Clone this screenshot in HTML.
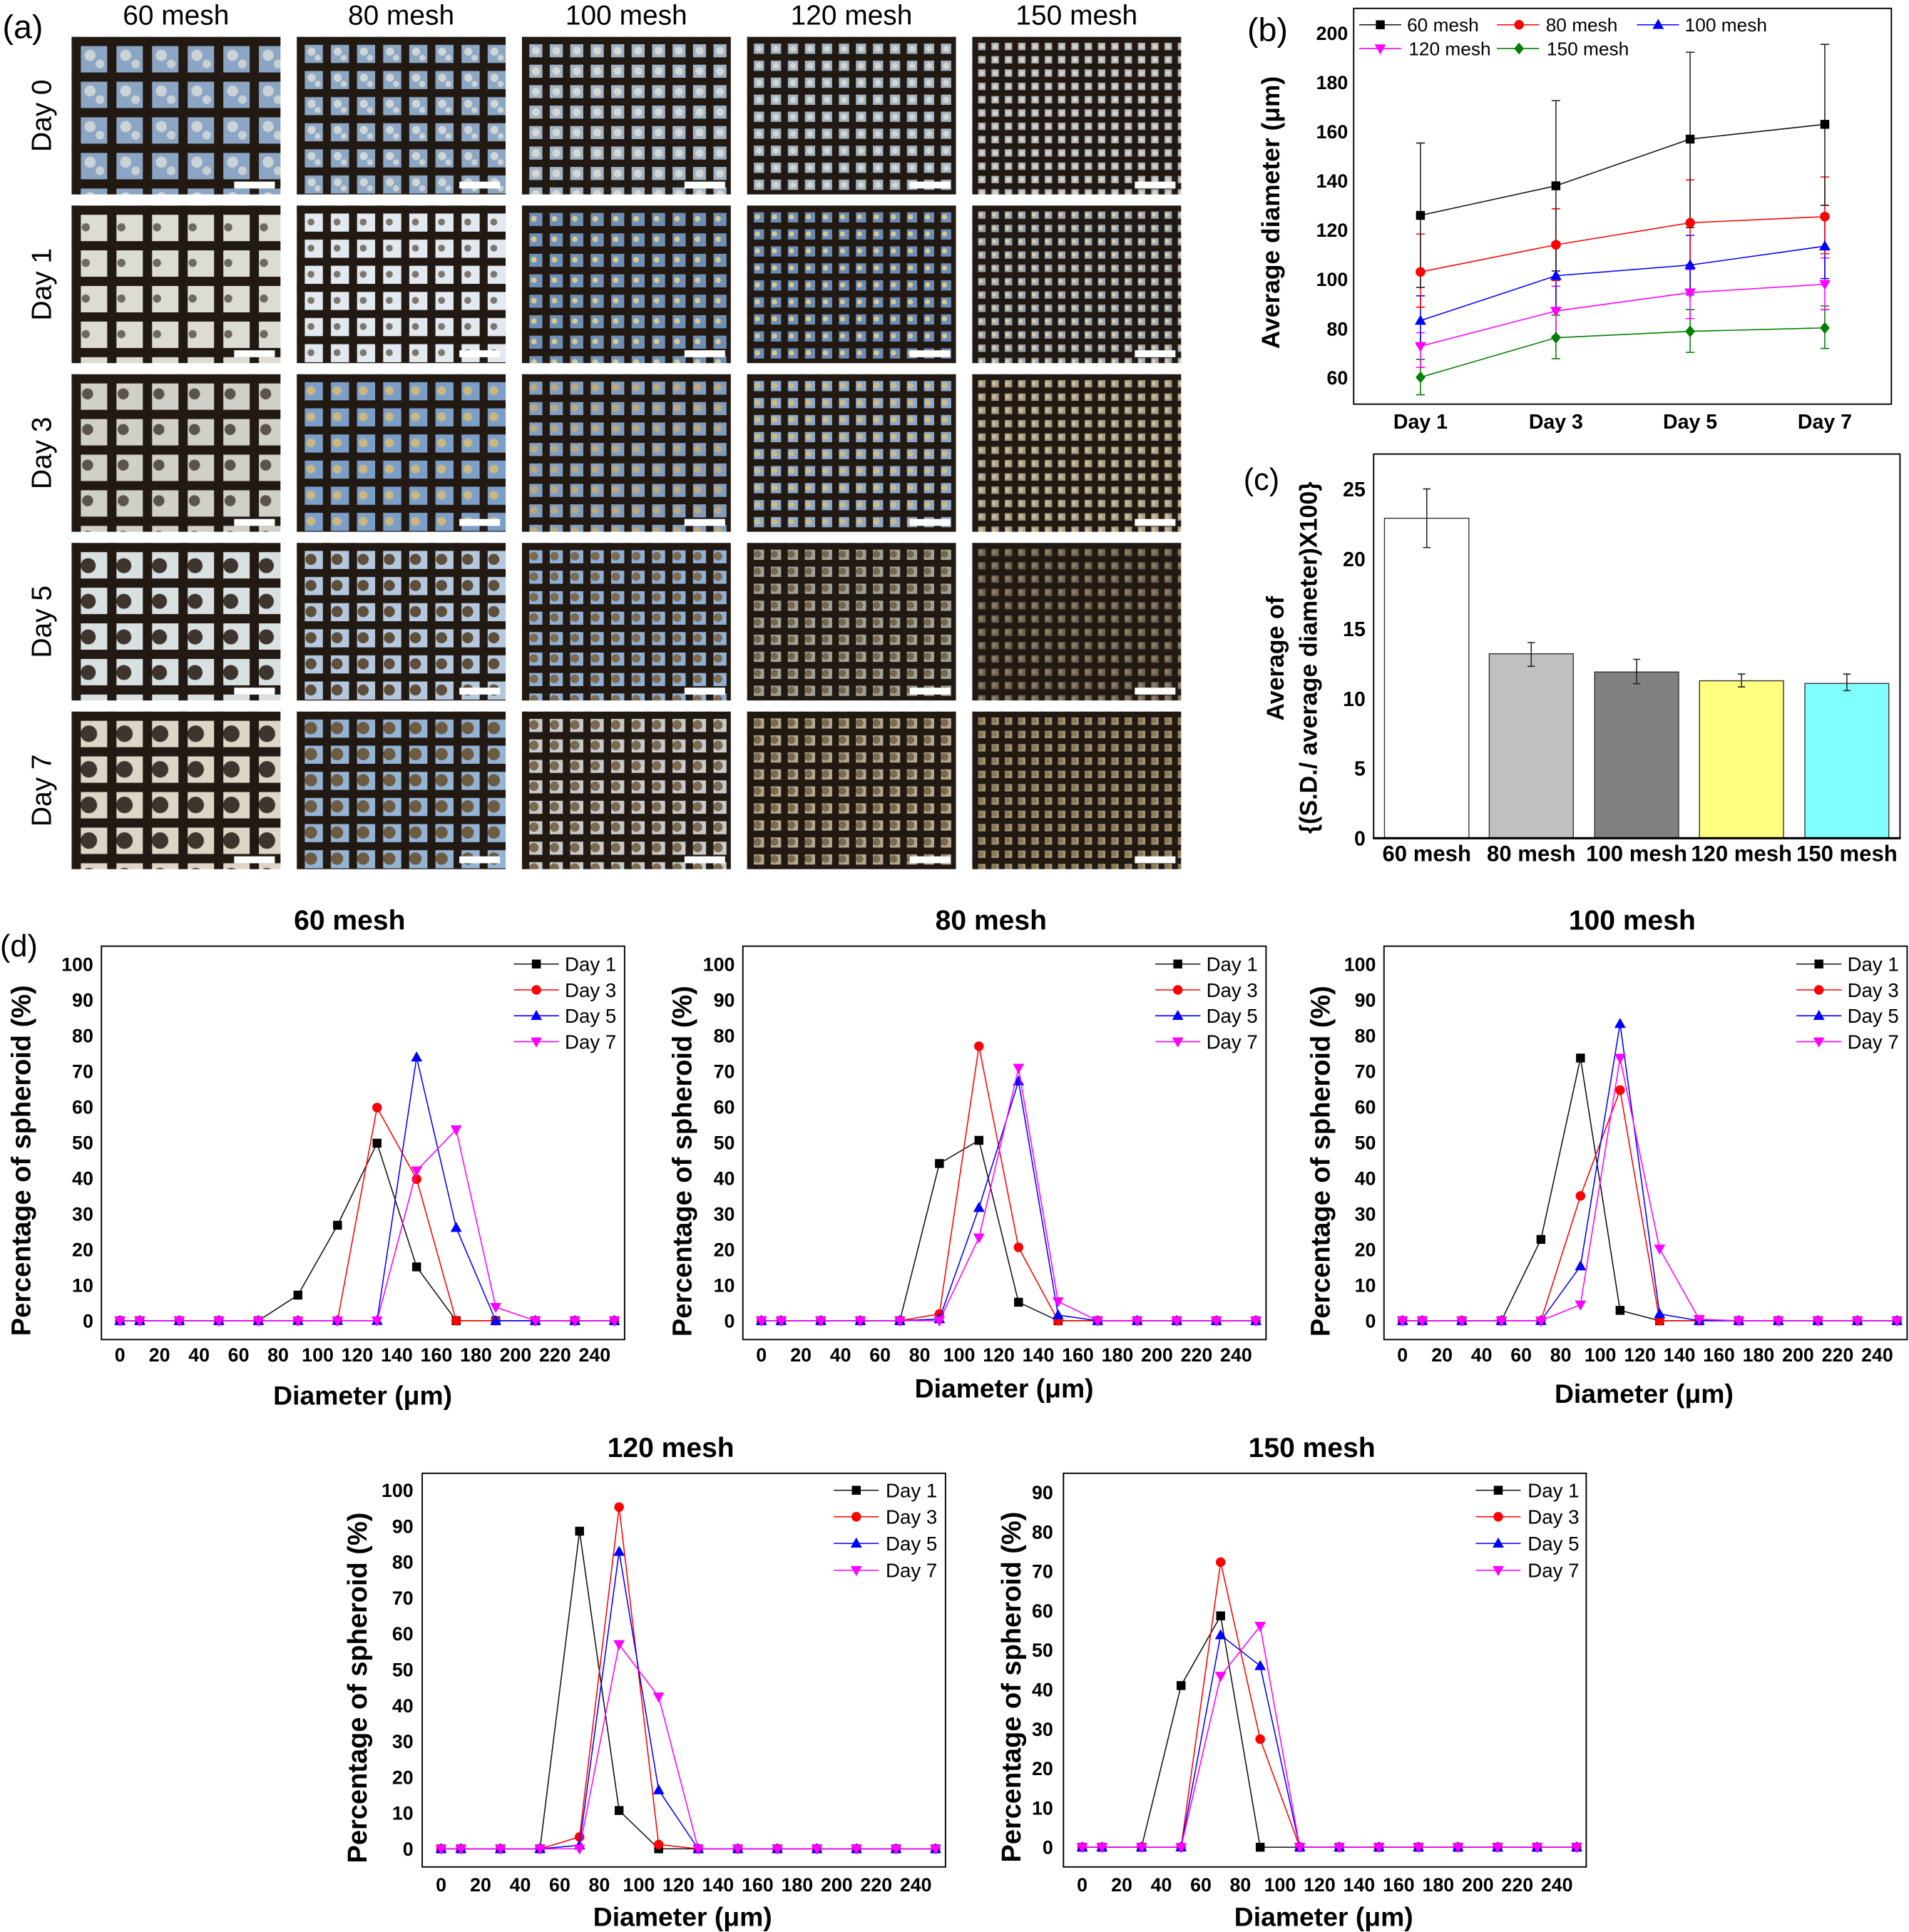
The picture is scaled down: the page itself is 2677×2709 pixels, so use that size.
<!DOCTYPE html>
<html><head><meta charset="utf-8"><style>
html,body{margin:0;padding:0;background:#fff;overflow:hidden}
svg{display:block}
text{font-family:"Liberation Sans",Arial,sans-serif;fill:#000}
.tk{font-size:15.5px;font-weight:bold}
.tkc{font-size:16.5px;font-weight:bold}
.ttl{font-size:22.6px;font-weight:bold}
.yt{font-size:22px;font-weight:bold}
.xt{font-size:21.6px;font-weight:bold}
.lg{font-size:16px}
.lgb{font-size:15.2px}
.hd{font-size:22.5px}
.pl{font-size:27px}
.s1,.s3,.s5,.s7,.s9{fill:none;stroke-width:.9}
.s1{stroke:#111;marker-start:url(#mk);marker-mid:url(#mk);marker-end:url(#mk)}
.s3{stroke:#f00;marker-start:url(#mr);marker-mid:url(#mr);marker-end:url(#mr)}
.s5{stroke:#00f;marker-start:url(#mb);marker-mid:url(#mb);marker-end:url(#mb)}
.s7{stroke:#f0f;marker-start:url(#mm);marker-mid:url(#mm);marker-end:url(#mm)}
.s9{stroke:#008000;marker-start:url(#mg);marker-mid:url(#mg);marker-end:url(#mg)}
.l1,.l3,.l5,.l7,.l9{fill:none;stroke-width:.9}
.l1{stroke:#111;marker-mid:url(#mk)}
.l3{stroke:#f00;marker-mid:url(#mr)}
.l5{stroke:#00f;marker-mid:url(#mb)}
.l7{stroke:#f0f;marker-mid:url(#mm)}
.l9{stroke:#008000;marker-mid:url(#mg)}
.box{fill:none;stroke:#000;stroke-width:1.1}
</style></head><body>
<svg xmlns="http://www.w3.org/2000/svg" width="2677" height="2709" viewBox="0 0 1549 1568" preserveAspectRatio="none">
<defs>
<marker id="mk" markerUnits="userSpaceOnUse" markerWidth="12" markerHeight="12" viewBox="-6 -6 12 12" refX="0" refY="0" overflow="visible"><rect x="-3.6" y="-3.6" width="7.2" height="7.2" fill="#000"/></marker>
<marker id="mr" markerUnits="userSpaceOnUse" markerWidth="12" markerHeight="12" viewBox="-6 -6 12 12" refX="0" refY="0" overflow="visible"><circle r="3.9" fill="#f00"/></marker>
<marker id="mb" markerUnits="userSpaceOnUse" markerWidth="12" markerHeight="12" viewBox="-6 -6 12 12" refX="0" refY="0" overflow="visible"><polygon points="0,-4.8 4.6,3.4 -4.6,3.4" fill="#00f"/></marker>
<marker id="mm" markerUnits="userSpaceOnUse" markerWidth="12" markerHeight="12" viewBox="-6 -6 12 12" refX="0" refY="0" overflow="visible"><polygon points="0,4.8 4.6,-3.4 -4.6,-3.4" fill="#f0f"/></marker>
<marker id="mg" markerUnits="userSpaceOnUse" markerWidth="12" markerHeight="12" viewBox="-6 -6 12 12" refX="0" refY="0" overflow="visible"><polygon points="0,-4.8 4,0 0,4.8 -4,0" fill="#008000"/></marker>

<pattern id="p00" patternUnits="userSpaceOnUse" x="58.1" y="29.9" width="28.9" height="28.9"><rect width="28.9" height="28.9" fill="#8ba6c4"/><circle cx="15" cy="15" r="4.5" fill="#ccd3d6"/><circle cx="23" cy="22" r="3.5" fill="#c8d0d4"/><rect width="28.9" height="7.5" fill="#221912"/><rect width="7.5" height="28.9" fill="#221912"/></pattern>
<pattern id="p01" patternUnits="userSpaceOnUse" x="240.8" y="29.9" width="21.2" height="21.2"><rect width="21.2" height="21.2" fill="#8ca7c3"/><circle cx="12" cy="12" r="3.3" fill="#d0d5d6"/><circle cx="17" cy="17" r="2.5" fill="#ccd2d4"/><rect width="21.2" height="6.5" fill="#221912"/><rect width="6.5" height="21.2" fill="#221912"/></pattern>
<pattern id="p02" patternUnits="userSpaceOnUse" x="423.5" y="29.9" width="16.6" height="16.6"><rect width="16.6" height="16.6" fill="#a0b4c6"/><circle cx="11.3" cy="11.3" r="3.2" fill="#d4d7d4"/><rect width="16.6" height="6" fill="#221912"/><rect width="6" height="16.6" fill="#221912"/></pattern>
<pattern id="p03" patternUnits="userSpaceOnUse" x="606.2" y="29.9" width="13.8" height="13.8"><rect width="13.8" height="13.8" fill="#a2b4c4"/><circle cx="9.65" cy="9.65" r="2.5" fill="#d4d6d0"/><rect width="13.8" height="5.5" fill="#221912"/><rect width="5.5" height="13.8" fill="#221912"/></pattern>
<pattern id="p04" patternUnits="userSpaceOnUse" x="788.9" y="29.9" width="10.8" height="10.8"><rect width="10.8" height="10.8" fill="#acb2b8"/><circle cx="7.8" cy="7.8" r="1.9" fill="#d4d4c8"/><rect width="10.8" height="4.8" fill="#221912"/><rect width="4.8" height="10.8" fill="#221912"/></pattern>

<pattern id="p10" patternUnits="userSpaceOnUse" x="58.1" y="166.8" width="28.9" height="28.9"><rect width="28.9" height="28.9" fill="#dcdcd2"/><circle cx="11.5" cy="17.68" r="3.3" fill="#6e6a62"/><rect width="28.9" height="7.5" fill="#221912"/><rect width="7.5" height="28.9" fill="#221912"/></pattern>
<pattern id="p11" patternUnits="userSpaceOnUse" x="240.8" y="166.8" width="21.2" height="21.2"><rect width="21.2" height="21.2" fill="#e2e9f1"/><circle cx="11.5" cy="13.39" r="2.8" fill="#7d776b"/><rect width="21.2" height="6.5" fill="#221912"/><rect width="6.5" height="21.2" fill="#221912"/></pattern>
<pattern id="p12" patternUnits="userSpaceOnUse" x="423.5" y="166.8" width="16.6" height="16.6"><rect width="16.6" height="16.6" fill="#6e8fb6"/><circle cx="9.71" cy="10.77" r="2.3" fill="#d9c98e"/><rect width="16.6" height="6" fill="#221912"/><rect width="6" height="16.6" fill="#221912"/></pattern>
<pattern id="p13" patternUnits="userSpaceOnUse" x="606.2" y="166.8" width="13.8" height="13.8"><rect width="13.8" height="13.8" fill="#6b8db5"/><circle cx="8.41" cy="9.24" r="2.1" fill="#d9c98e"/><rect width="13.8" height="5.5" fill="#221912"/><rect width="5.5" height="13.8" fill="#221912"/></pattern>
<pattern id="p14" patternUnits="userSpaceOnUse" x="788.9" y="166.8" width="10.8" height="10.8"><rect width="10.8" height="10.8" fill="#9aa6b6"/><circle cx="6.9" cy="7.5" r="1.7" fill="#d8d0a8"/><rect width="10.8" height="4.8" fill="#221912"/><rect width="4.8" height="10.8" fill="#221912"/></pattern>

<pattern id="p20" patternUnits="userSpaceOnUse" x="58.1" y="303.7" width="28.9" height="28.9"><rect width="28.9" height="28.9" fill="#d0d0c8"/><circle cx="13" cy="16" r="4.5" fill="#5a544c"/><rect width="28.9" height="7.5" fill="#221912"/><rect width="7.5" height="28.9" fill="#221912"/></pattern>
<pattern id="p21" patternUnits="userSpaceOnUse" x="240.8" y="303.7" width="21.2" height="21.2"><rect width="21.2" height="21.2" fill="#7b9fc8"/><circle cx="11.5" cy="13.39" r="3.6" fill="#cbb780"/><rect width="21.2" height="6.5" fill="#221912"/><rect width="6.5" height="21.2" fill="#221912"/></pattern>
<pattern id="p22" patternUnits="userSpaceOnUse" x="423.5" y="303.7" width="16.6" height="16.6"><rect width="16.6" height="16.6" fill="#809dc0"/><circle cx="9.71" cy="10.77" r="3" fill="#bcaa7e"/><rect width="16.6" height="6" fill="#221912"/><rect width="6" height="16.6" fill="#221912"/></pattern>
<pattern id="p23" patternUnits="userSpaceOnUse" x="606.2" y="303.7" width="13.8" height="13.8"><rect width="13.8" height="13.8" fill="#8ca8c8"/><circle cx="8.41" cy="9.24" r="2.5" fill="#cbbb88"/><rect width="13.8" height="5.5" fill="#221912"/><rect width="5.5" height="13.8" fill="#221912"/></pattern>
<pattern id="p24" patternUnits="userSpaceOnUse" x="788.9" y="303.7" width="10.8" height="10.8"><rect width="10.8" height="10.8" fill="#a49c84"/><circle cx="6.9" cy="7.5" r="1.8" fill="#c8bc98"/><rect width="10.8" height="4.8" fill="#221912"/><rect width="4.8" height="10.8" fill="#221912"/></pattern>

<pattern id="p30" patternUnits="userSpaceOnUse" x="58.1" y="440.6" width="28.9" height="28.9"><rect width="28.9" height="28.9" fill="#d8e0e2"/><circle cx="13.5" cy="18.5" r="6.1" fill="#3e362e"/><rect width="28.9" height="7.5" fill="#221912"/><rect width="7.5" height="28.9" fill="#221912"/></pattern>
<pattern id="p31" patternUnits="userSpaceOnUse" x="240.8" y="440.6" width="21.2" height="21.2"><rect width="21.2" height="21.2" fill="#b4c9e0"/><circle cx="11.5" cy="13.39" r="4.5" fill="#5e4e3a"/><rect width="21.2" height="6.5" fill="#221912"/><rect width="6.5" height="21.2" fill="#221912"/></pattern>
<pattern id="p32" patternUnits="userSpaceOnUse" x="423.5" y="440.6" width="16.6" height="16.6"><rect width="16.6" height="16.6" fill="#8fb0d6"/><circle cx="9.71" cy="10.77" r="3.5" fill="#7e6a4e"/><rect width="16.6" height="6" fill="#221912"/><rect width="6" height="16.6" fill="#221912"/></pattern>
<pattern id="p33" patternUnits="userSpaceOnUse" x="606.2" y="440.6" width="13.8" height="13.8"><rect width="13.8" height="13.8" fill="#a0a298"/><circle cx="8.41" cy="9.24" r="2.9" fill="#76664c"/><rect width="13.8" height="5.5" fill="#221912"/><rect width="5.5" height="13.8" fill="#221912"/></pattern>
<pattern id="p34" patternUnits="userSpaceOnUse" x="788.9" y="440.6" width="10.8" height="10.8"><rect width="10.8" height="10.8" fill="#6a6050"/><circle cx="6.9" cy="7.5" r="2.1" fill="#8a7c60"/><rect width="10.8" height="4.8" fill="#221912"/><rect width="4.8" height="10.8" fill="#221912"/></pattern>

<pattern id="p40" patternUnits="userSpaceOnUse" x="58.1" y="577.5" width="28.9" height="28.9"><rect width="28.9" height="28.9" fill="#ddd5c5"/><circle cx="14" cy="18" r="6.7" fill="#3e362e"/><rect width="28.9" height="7.5" fill="#221912"/><rect width="7.5" height="28.9" fill="#221912"/></pattern>
<pattern id="p41" patternUnits="userSpaceOnUse" x="240.8" y="577.5" width="21.2" height="21.2"><rect width="21.2" height="21.2" fill="#94b4d6"/><circle cx="11.5" cy="13.39" r="5" fill="#6e5c42"/><rect width="21.2" height="6.5" fill="#221912"/><rect width="6.5" height="21.2" fill="#221912"/></pattern>
<pattern id="p42" patternUnits="userSpaceOnUse" x="423.5" y="577.5" width="16.6" height="16.6"><rect width="16.6" height="16.6" fill="#c8cacc"/><circle cx="9.71" cy="10.77" r="3.8" fill="#7a6a50"/><rect width="16.6" height="6" fill="#221912"/><rect width="6" height="16.6" fill="#221912"/></pattern>
<pattern id="p43" patternUnits="userSpaceOnUse" x="606.2" y="577.5" width="13.8" height="13.8"><rect width="13.8" height="13.8" fill="#b4a890"/><circle cx="8.41" cy="9.24" r="3.1" fill="#7a6a4e"/><rect width="13.8" height="5.5" fill="#221912"/><rect width="5.5" height="13.8" fill="#221912"/></pattern>
<pattern id="p44" patternUnits="userSpaceOnUse" x="788.9" y="577.5" width="10.8" height="10.8"><rect width="10.8" height="10.8" fill="#a49474"/><circle cx="6.9" cy="7.5" r="2.3" fill="#8a7a58"/><rect width="10.8" height="4.8" fill="#221912"/><rect width="4.8" height="10.8" fill="#221912"/></pattern>
</defs>

<rect x="0" y="0" width="1549" height="1568" fill="#fff"/>

<!-- ============ PANEL (a) ============ -->
<text class="pl" x="2" y="31">(a)</text>
<g class="hd" text-anchor="middle">
<text x="142.8" y="20">60 mesh</text>
<text x="325.5" y="20">80 mesh</text>
<text x="508.2" y="20">100 mesh</text>
<text x="690.9" y="20">120 mesh</text>
<text x="873.6" y="20">150 mesh</text>
</g>
<g class="hd" text-anchor="middle">
<text transform="translate(41.5,93.9) rotate(-90)">Day 0</text>
<text transform="translate(41.5,230.8) rotate(-90)">Day 1</text>
<text transform="translate(41.5,367.7) rotate(-90)">Day 3</text>
<text transform="translate(41.5,504.6) rotate(-90)">Day 5</text>
<text transform="translate(41.5,641.5) rotate(-90)">Day 7</text>
</g>
<g>
<rect x="58.1" y="29.9" width="169.5" height="127.9" fill="url(#p00)"/>
<rect x="240.8" y="29.9" width="169.5" height="127.9" fill="url(#p01)"/>
<rect x="423.5" y="29.9" width="169.5" height="127.9" fill="url(#p02)"/>
<rect x="606.2" y="29.9" width="169.5" height="127.9" fill="url(#p03)"/>
<rect x="788.9" y="29.9" width="169.5" height="127.9" fill="url(#p04)"/>
<rect x="58.1" y="166.8" width="169.5" height="127.9" fill="url(#p10)"/>
<rect x="240.8" y="166.8" width="169.5" height="127.9" fill="url(#p11)"/>
<rect x="423.5" y="166.8" width="169.5" height="127.9" fill="url(#p12)"/>
<rect x="606.2" y="166.8" width="169.5" height="127.9" fill="url(#p13)"/>
<rect x="788.9" y="166.8" width="169.5" height="127.9" fill="url(#p14)"/>
<rect x="58.1" y="303.7" width="169.5" height="127.9" fill="url(#p20)"/>
<rect x="240.8" y="303.7" width="169.5" height="127.9" fill="url(#p21)"/>
<rect x="423.5" y="303.7" width="169.5" height="127.9" fill="url(#p22)"/>
<rect x="606.2" y="303.7" width="169.5" height="127.9" fill="url(#p23)"/>
<rect x="788.9" y="303.7" width="169.5" height="127.9" fill="url(#p24)"/>
<rect x="58.1" y="440.6" width="169.5" height="127.9" fill="url(#p30)"/>
<rect x="240.8" y="440.6" width="169.5" height="127.9" fill="url(#p31)"/>
<rect x="423.5" y="440.6" width="169.5" height="127.9" fill="url(#p32)"/>
<rect x="606.2" y="440.6" width="169.5" height="127.9" fill="url(#p33)"/>
<rect x="788.9" y="440.6" width="169.5" height="127.9" fill="url(#p34)"/>
<rect x="58.1" y="577.5" width="169.5" height="127.9" fill="url(#p40)"/>
<rect x="240.8" y="577.5" width="169.5" height="127.9" fill="url(#p41)"/>
<rect x="423.5" y="577.5" width="169.5" height="127.9" fill="url(#p42)"/>
<rect x="606.2" y="577.5" width="169.5" height="127.9" fill="url(#p43)"/>
<rect x="788.9" y="577.5" width="169.5" height="127.9" fill="url(#p44)"/>
</g>
<g fill="#fff">
<rect x="190" y="147.4" width="33" height="5.6"/><rect x="372.7" y="147.4" width="33" height="5.6"/><rect x="555.4" y="147.4" width="33" height="5.6"/><rect x="738.1" y="147.4" width="33" height="5.6"/><rect x="920.8" y="147.4" width="33" height="5.6"/>
<rect x="190" y="284.3" width="33" height="5.6"/><rect x="372.7" y="284.3" width="33" height="5.6"/><rect x="555.4" y="284.3" width="33" height="5.6"/><rect x="738.1" y="284.3" width="33" height="5.6"/><rect x="920.8" y="284.3" width="33" height="5.6"/>
<rect x="190" y="421.2" width="33" height="5.6"/><rect x="372.7" y="421.2" width="33" height="5.6"/><rect x="555.4" y="421.2" width="33" height="5.6"/><rect x="738.1" y="421.2" width="33" height="5.6"/><rect x="920.8" y="421.2" width="33" height="5.6"/>
<rect x="190" y="558.1" width="33" height="5.6"/><rect x="372.7" y="558.1" width="33" height="5.6"/><rect x="555.4" y="558.1" width="33" height="5.6"/><rect x="738.1" y="558.1" width="33" height="5.6"/><rect x="920.8" y="558.1" width="33" height="5.6"/>
<rect x="190" y="695" width="33" height="5.6"/><rect x="372.7" y="695" width="33" height="5.6"/><rect x="555.4" y="695" width="33" height="5.6"/><rect x="738.1" y="695" width="33" height="5.6"/><rect x="920.8" y="695" width="33" height="5.6"/>
</g>

<!-- ============ PANEL (b) ============ -->
<text class="pl" x="1012" y="33.4">(b)</text>
<rect class="box" x="1098.4" y="6.8" width="436.3" height="321.2"/>
<g class="tk" text-anchor="end">
<text x="1093.8" y="32.5">200</text>
<text x="1093.8" y="72.4">180</text>
<text x="1093.8" y="112.4">160</text>
<text x="1093.8" y="152.3">140</text>
<text x="1093.8" y="192.3">120</text>
<text x="1093.8" y="232.2">100</text>
<text x="1093.8" y="272.2">80</text>
<text x="1093.8" y="312.1">60</text>
</g>
<g class="tkc" text-anchor="middle">
<text x="1152.6" y="348">Day 1</text>
<text x="1262.5" y="348">Day 3</text>
<text x="1371.4" y="348">Day 5</text>
<text x="1480.7" y="348">Day 7</text>
</g>
<text class="yt" style="font-size:20.5px" text-anchor="middle" transform="translate(1038,172.5) rotate(-90)">Average diameter (μm)</text>
<g stroke-width=".9" fill="none">
<path stroke="#008000" d="M1152.6,291.7V320.4M1149.1,291.7h7M1149.1,320.4h7 M1262.5,255.8V291.1M1259,255.8h7M1259,291.1h7 M1371.4,251.3V286M1367.9,251.3h7M1367.9,286h7 M1480.7,248.3V282.8M1477.2,248.3h7M1477.2,282.8h7"/>
<path stroke="#f0f" d="M1152.6,270V298.2M1149.1,270h7M1149.1,298.2h7 M1262.5,232.3V272.6M1259,232.3h7M1259,272.6h7 M1371.4,218.7V258.6M1367.9,218.7h7M1367.9,258.6h7 M1480.7,209.4V251.3M1477.2,209.4h7M1477.2,251.3h7"/>
<path stroke="#00f" d="M1152.6,240.1V280M1149.1,240.1h7M1149.1,280h7 M1262.5,196.7V250.1M1259,196.7h7M1259,250.1h7 M1371.4,191.1V239.3M1367.9,191.1h7M1367.9,239.3h7 M1480.7,173.9V226.1M1477.2,173.9h7M1477.2,226.1h7"/>
<path stroke="#f00" d="M1152.6,190V249.3M1149.1,190h7M1149.1,249.3h7 M1262.5,169.4V227.7M1259,169.4h7M1259,227.7h7 M1371.4,146V214.7M1367.9,146h7M1367.9,214.7h7 M1480.7,143.6V205.9M1477.2,143.6h7M1477.2,205.9h7"/>
<path stroke="#222" d="M1152.6,116.1V233.3M1149.1,116.1h7M1149.1,233.3h7 M1262.5,81.7V219.9M1259,81.7h7M1259,219.9h7 M1371.4,42.4V184.8M1367.9,42.4h7M1367.9,184.8h7 M1480.7,36V166.6M1477.2,36h7M1477.2,166.6h7"/>
</g>
<polyline class="s9" points="1152.6,306.2 1262.5,274.1 1371.4,268.9 1480.7,266.1"/>
<polyline class="s7" points="1152.6,281 1262.5,252.4 1371.4,237.5 1480.7,230.7"/>
<polyline class="s5" points="1152.6,260.2 1262.5,223.8 1371.4,215.1 1480.7,199.8"/>
<polyline class="s3" points="1152.6,220.7 1262.5,198.7 1371.4,180.8 1480.7,175.8"/>
<polyline class="s1" points="1152.6,174.8 1262.5,150.8 1371.4,112.9 1480.7,100.9"/>
<polyline class="l1" points="1102.8,20.1 1120,20.1 1137,20.1"/>
<polyline class="l3" points="1214.6,20.1 1232.6,20.1 1248.9,20.1"/>
<polyline class="l5" points="1328.2,20.1 1345.5,20.1 1362.4,20.1"/>
<polyline class="l7" points="1102.8,39.4 1120,39.4 1137,39.4"/>
<polyline class="l9" points="1214.6,39.4 1232.6,39.4 1248.9,39.4"/>
<g class="lgb">
<text x="1141.7" y="25.5">60 mesh</text>
<text x="1254.3" y="25.5">80 mesh</text>
<text x="1367.1" y="25.5">100 mesh</text>
<text x="1143" y="44.8">120 mesh</text>
<text x="1255" y="44.8">150 mesh</text>
</g>

<!-- ============ PANEL (c) ============ -->
<text class="pl" style="font-size:25px" x="1009" y="397.7">(c)</text>
<g stroke="#333" stroke-width=".8">
<rect x="1123.4" y="420.6" width="68.5" height="259.7" fill="#fff"/>
<rect x="1208.4" y="530.6" width="68.2" height="149.7" fill="#c0c0c0"/>
<rect x="1293.9" y="545.4" width="68.2" height="134.9" fill="#808080"/>
<rect x="1379" y="552.5" width="68.2" height="127.8" fill="#ffff80"/>
<rect x="1464.5" y="554.7" width="68.1" height="125.6" fill="#80ffff"/>
</g>
<path stroke="#222" stroke-width=".9" fill="none" d="M1157.7,396.8V444.4M1154.7,396.8h6M1154.7,444.4h6 M1242.5,521.5V540.8M1239.5,521.5h6M1239.5,540.8h6 M1328,535.1V554.9M1325,535.1h6M1325,554.9h6 M1413.1,547.1V557.5M1410.1,547.1h6M1410.1,557.5h6 M1498.6,547.1V560.5M1495.6,547.1h6M1495.6,560.5h6"/>
<rect class="box" x="1114.6" y="368.5" width="427.1" height="311.8"/>
<line x1="1114" y1="680.3" x2="1542.3" y2="680.3" stroke="#000" stroke-width="1.8"/>
<g class="tkc" text-anchor="end">
<text x="1108" y="686.3">0</text>
<text x="1108" y="629.6">5</text>
<text x="1108" y="572.9">10</text>
<text x="1108" y="516.2">15</text>
<text x="1108" y="459.5">20</text>
<text x="1108" y="402.8">25</text>
</g>
<g text-anchor="middle" style="font-size:18px;font-weight:bold">
<text x="1157.7" y="699">60 mesh</text>
<text x="1242.5" y="699">80 mesh</text>
<text x="1328" y="699">100 mesh</text>
<text x="1413.1" y="699">120 mesh</text>
<text x="1498.6" y="699">150 mesh</text>
</g>
<g text-anchor="middle" style="font-size:19.7px;font-weight:bold">
<text transform="translate(1041.5,534.4) rotate(-90)">Average of</text>
<text transform="translate(1068.5,533.8) rotate(-90)">{(S.D./ average diameter)X100}</text>
</g>

<!-- ============ PANEL (d) ============ -->
<text class="pl" style="font-size:25px" x="0" y="776.3">(d)</text>

<g transform="translate(97.3,1071.9)">
<rect class="box" x="-15" y="-304" width="424.5" height="319.3"/>
<text class="ttl" x="186.4" y="-317.5" text-anchor="middle">60 mesh</text>
<g class="tk" text-anchor="end">
<text x="-21.6" y="5.5">0</text><text x="-21.6" y="-23.43">10</text><text x="-21.6" y="-52.36">20</text><text x="-21.6" y="-81.29">30</text><text x="-21.6" y="-110.22">40</text><text x="-21.6" y="-139.15">50</text><text x="-21.6" y="-168.08">60</text><text x="-21.6" y="-197.01">70</text><text x="-21.6" y="-225.94">80</text><text x="-21.6" y="-254.87">90</text><text x="-21.6" y="-283.8">100</text>
</g>
<g class="tk" text-anchor="middle">
<text x="0" y="33">0</text><text x="32.1" y="33">20</text><text x="64.2" y="33">40</text><text x="96.3" y="33">60</text><text x="128.4" y="33">80</text><text x="160.5" y="33">100</text><text x="192.6" y="33">120</text><text x="224.7" y="33">140</text><text x="256.8" y="33">160</text><text x="288.9" y="33">180</text><text x="321" y="33">200</text><text x="353.1" y="33">220</text><text x="385.2" y="33">240</text>
</g>
<text class="xt" x="197" y="68" text-anchor="middle">Diameter (μm)</text>
<text class="yt" text-anchor="middle" transform="translate(-72.7,-130) rotate(-90)">Percentage of spheroid (%)</text>
<polyline class="s1" points="0,0 16.05,0 48.15,0 80.25,0 112.35,0 144.45,-20.8 176.55,-77.5 208.65,-144.1 240.75,-43.7 272.85,0 304.95,0 337.05,0 369.15,0 401.25,0"/>
<polyline class="s3" points="0,0 16.05,0 48.15,0 80.25,0 112.35,0 144.45,0 176.55,0 208.65,-173 240.75,-114.9 272.85,0 304.95,0 337.05,0 369.15,0 401.25,0"/>
<polyline class="s5" points="0,0 16.05,0 48.15,0 80.25,0 112.35,0 144.45,0 176.55,0 208.65,0 240.75,-213.8 272.85,-75.5 304.95,0 337.05,0 369.15,0 401.25,0"/>
<polyline class="s7" points="0,0 16.05,0 48.15,0 80.25,0 112.35,0 144.45,0 176.55,0 208.65,0 240.75,-121.8 272.85,-155.1 304.95,-11 337.05,0 369.15,0 401.25,0"/>
<polyline class="l1" points="319.6,-289.5 337.9,-289.5 356.2,-289.5"/>
<polyline class="l3" points="319.6,-268.5 337.9,-268.5 356.2,-268.5"/>
<polyline class="l5" points="319.6,-247.5 337.9,-247.5 356.2,-247.5"/>
<polyline class="l7" points="319.6,-226.5 337.9,-226.5 356.2,-226.5"/>
<g class="lg"><text x="361" y="-283.8">Day 1</text><text x="361" y="-262.8">Day 3</text><text x="361" y="-241.8">Day 5</text><text x="361" y="-220.8">Day 7</text></g>
</g>

<g transform="translate(617.8,1071.9)">
<rect class="box" x="-15" y="-304" width="424.5" height="319.3"/>
<text class="ttl" x="186.4" y="-317.5" text-anchor="middle">80 mesh</text>
<g class="tk" text-anchor="end">
<text x="-21.6" y="5.5">0</text><text x="-21.6" y="-23.43">10</text><text x="-21.6" y="-52.36">20</text><text x="-21.6" y="-81.29">30</text><text x="-21.6" y="-110.22">40</text><text x="-21.6" y="-139.15">50</text><text x="-21.6" y="-168.08">60</text><text x="-21.6" y="-197.01">70</text><text x="-21.6" y="-225.94">80</text><text x="-21.6" y="-254.87">90</text><text x="-21.6" y="-283.8">100</text>
</g>
<g class="tk" text-anchor="middle">
<text x="0" y="33">0</text><text x="32.1" y="33">20</text><text x="64.2" y="33">40</text><text x="96.3" y="33">60</text><text x="128.4" y="33">80</text><text x="160.5" y="33">100</text><text x="192.6" y="33">120</text><text x="224.7" y="33">140</text><text x="256.8" y="33">160</text><text x="288.9" y="33">180</text><text x="321" y="33">200</text><text x="353.1" y="33">220</text><text x="385.2" y="33">240</text>
</g>
<text class="xt" x="197" y="62.4" text-anchor="middle">Diameter (μm)</text>
<text class="yt" text-anchor="middle" transform="translate(-56.8,-129.5) rotate(-90)">Percentage of spheroid (%)</text>
<polyline class="s1" points="0,0 16.05,0 48.15,0 80.25,0 112.35,0 144.45,-127.6 176.55,-146.4 208.65,-15 240.75,0 272.85,0 304.95,0 337.05,0 369.15,0 401.25,0"/>
<polyline class="s3" points="0,0 16.05,0 48.15,0 80.25,0 112.35,0 144.45,-5.5 176.55,-222.8 208.65,-59.6 240.75,0 272.85,0 304.95,0 337.05,0 369.15,0 401.25,0"/>
<polyline class="s5" points="0,0 16.05,0 48.15,0 80.25,0 112.35,0 144.45,-1.4 176.55,-91.7 208.65,-194.4 240.75,-4.6 272.85,0 304.95,0 337.05,0 369.15,0 401.25,0"/>
<polyline class="s7" points="0,0 16.05,0 48.15,0 80.25,0 112.35,0 144.45,0 176.55,-67.4 208.65,-205.1 240.75,-15.6 272.85,0 304.95,0 337.05,0 369.15,0 401.25,0"/>
<polyline class="l1" points="319.6,-289.5 337.9,-289.5 356.2,-289.5"/>
<polyline class="l3" points="319.6,-268.5 337.9,-268.5 356.2,-268.5"/>
<polyline class="l5" points="319.6,-247.5 337.9,-247.5 356.2,-247.5"/>
<polyline class="l7" points="319.6,-226.5 337.9,-226.5 356.2,-226.5"/>
<g class="lg"><text x="361" y="-283.8">Day 1</text><text x="361" y="-262.8">Day 3</text><text x="361" y="-241.8">Day 5</text><text x="361" y="-220.8">Day 7</text></g>
</g>

<g transform="translate(1138,1071.9)">
<rect class="box" x="-15" y="-304" width="424.5" height="319.3"/>
<text class="ttl" x="186.4" y="-317.5" text-anchor="middle">100 mesh</text>
<g class="tk" text-anchor="end">
<text x="-21.6" y="5.5">0</text><text x="-21.6" y="-23.43">10</text><text x="-21.6" y="-52.36">20</text><text x="-21.6" y="-81.29">30</text><text x="-21.6" y="-110.22">40</text><text x="-21.6" y="-139.15">50</text><text x="-21.6" y="-168.08">60</text><text x="-21.6" y="-197.01">70</text><text x="-21.6" y="-225.94">80</text><text x="-21.6" y="-254.87">90</text><text x="-21.6" y="-283.8">100</text>
</g>
<g class="tk" text-anchor="middle">
<text x="0" y="33">0</text><text x="32.1" y="33">20</text><text x="64.2" y="33">40</text><text x="96.3" y="33">60</text><text x="128.4" y="33">80</text><text x="160.5" y="33">100</text><text x="192.6" y="33">120</text><text x="224.7" y="33">140</text><text x="256.8" y="33">160</text><text x="288.9" y="33">180</text><text x="321" y="33">200</text><text x="353.1" y="33">220</text><text x="385.2" y="33">240</text>
</g>
<text class="xt" x="196" y="66.5" text-anchor="middle">Diameter (μm)</text>
<text class="yt" text-anchor="middle" transform="translate(-59.1,-129.5) rotate(-90)">Percentage of spheroid (%)</text>
<polyline class="s1" points="0,0 16.05,0 48.15,0 80.25,0 112.35,-66 144.45,-213.2 176.55,-8.4 208.65,0 240.75,0 272.85,0 304.95,0 337.05,0 369.15,0 401.25,0"/>
<polyline class="s3" points="0,0 16.05,0 48.15,0 80.25,0 112.35,0 144.45,-101.3 176.55,-187.2 208.65,0 240.75,0 272.85,0 304.95,0 337.05,0 369.15,0 401.25,0"/>
<polyline class="s5" points="0,0 16.05,0 48.15,0 80.25,0 112.35,0 144.45,-44.3 176.55,-241 208.65,-5.5 240.75,0 272.85,0 304.95,0 337.05,0 369.15,0 401.25,0"/>
<polyline class="s7" points="0,0 16.05,0 48.15,0 80.25,0 112.35,0 144.45,-13 176.55,-213.2 208.65,-58.4 240.75,-1.2 272.85,0 304.95,0 337.05,0 369.15,0 401.25,0"/>
<polyline class="l1" points="319.6,-289.5 337.9,-289.5 356.2,-289.5"/>
<polyline class="l3" points="319.6,-268.5 337.9,-268.5 356.2,-268.5"/>
<polyline class="l5" points="319.6,-247.5 337.9,-247.5 356.2,-247.5"/>
<polyline class="l7" points="319.6,-226.5 337.9,-226.5 356.2,-226.5"/>
<g class="lg"><text x="361" y="-283.8">Day 1</text><text x="361" y="-262.8">Day 3</text><text x="361" y="-241.8">Day 5</text><text x="361" y="-220.8">Day 7</text></g>
</g>

<g transform="translate(357.9,1500.5)">
<rect class="box" x="-15.3" y="-304.8" width="424.6" height="319.5"/>
<text class="ttl" x="186.4" y="-318" text-anchor="middle">120 mesh</text>
<g class="tk" text-anchor="end">
<text x="-22.5" y="5.5">0</text><text x="-22.5" y="-23.6">10</text><text x="-22.5" y="-52.7">20</text><text x="-22.5" y="-81.8">30</text><text x="-22.5" y="-110.9">40</text><text x="-22.5" y="-140">50</text><text x="-22.5" y="-169.1">60</text><text x="-22.5" y="-198.2">70</text><text x="-22.5" y="-227.3">80</text><text x="-22.5" y="-256.4">90</text><text x="-22.5" y="-285.5">100</text>
</g>
<g class="tk" text-anchor="middle">
<text x="0" y="34.5">0</text><text x="32.1" y="34.5">20</text><text x="64.2" y="34.5">40</text><text x="96.3" y="34.5">60</text><text x="128.4" y="34.5">80</text><text x="160.5" y="34.5">100</text><text x="192.6" y="34.5">120</text><text x="224.7" y="34.5">140</text><text x="256.8" y="34.5">160</text><text x="288.9" y="34.5">180</text><text x="321" y="34.5">200</text><text x="353.1" y="34.5">220</text><text x="385.2" y="34.5">240</text>
</g>
<text class="xt" x="196" y="62.5" text-anchor="middle">Diameter (μm)</text>
<text class="yt" text-anchor="middle" transform="translate(-60.4,-130.7) rotate(-90)">Percentage of spheroid (%)</text>
<polyline class="s1" points="0,0 16.05,0 48.15,0 80.25,0 112.35,-257.8 144.45,-31.1 176.55,0 208.65,0 240.75,0 272.85,0 304.95,0 337.05,0 369.15,0 401.25,0"/>
<polyline class="s3" points="0,0 16.05,0 48.15,0 80.25,0 112.35,-9.6 144.45,-277.3 176.55,-3.5 208.65,0 240.75,0 272.85,0 304.95,0 337.05,0 369.15,0 401.25,0"/>
<polyline class="s5" points="0,0 16.05,0 48.15,0 80.25,0 112.35,-2.9 144.45,-241.2 176.55,-47.7 208.65,0 240.75,0 272.85,0 304.95,0 337.05,0 369.15,0 401.25,0"/>
<polyline class="s7" points="0,0 16.05,0 48.15,0 80.25,0 112.35,0 144.45,-165.9 176.55,-123.4 208.65,0 240.75,0 272.85,0 304.95,0 337.05,0 369.15,0 401.25,0"/>
<polyline class="l1" points="318.6,-291 336.9,-291 355.1,-291"/>
<polyline class="l3" points="318.6,-269.5 336.9,-269.5 355.1,-269.5"/>
<polyline class="l5" points="318.6,-247.9 336.9,-247.9 355.1,-247.9"/>
<polyline class="l7" points="318.6,-226.1 336.9,-226.1 355.1,-226.1"/>
<g class="lg"><text x="360.8" y="-285.3">Day 1</text><text x="360.8" y="-263.8">Day 3</text><text x="360.8" y="-242.2">Day 5</text><text x="360.8" y="-220.4">Day 7</text></g>
</g>

<g transform="translate(878.1,1499.2)">
<rect class="box" x="-15.2" y="-303.5" width="424.2" height="319.5"/>
<text class="ttl" x="186.4" y="-316.7" text-anchor="middle">150 mesh</text>
<g class="tk" text-anchor="end">
<text x="-23.6" y="5.5">0</text><text x="-23.6" y="-26.5">10</text><text x="-23.6" y="-58.5">20</text><text x="-23.6" y="-90.5">30</text><text x="-23.6" y="-122.5">40</text><text x="-23.6" y="-154.5">50</text><text x="-23.6" y="-186.5">60</text><text x="-23.6" y="-218.5">70</text><text x="-23.6" y="-250.5">80</text><text x="-23.6" y="-282.5">90</text>
</g>
<g class="tk" text-anchor="middle">
<text x="0" y="35.8">0</text><text x="32.1" y="35.8">20</text><text x="64.2" y="35.8">40</text><text x="96.3" y="35.8">60</text><text x="128.4" y="35.8">80</text><text x="160.5" y="35.8">100</text><text x="192.6" y="35.8">120</text><text x="224.7" y="35.8">140</text><text x="256.8" y="35.8">160</text><text x="288.9" y="35.8">180</text><text x="321" y="35.8">200</text><text x="353.1" y="35.8">220</text><text x="385.2" y="35.8">240</text>
</g>
<text class="xt" x="196" y="63.8" text-anchor="middle">Diameter (μm)</text>
<text class="yt" text-anchor="middle" transform="translate(-50.1,-130) rotate(-90)">Percentage of spheroid (%)</text>
<polyline class="s1" points="0,0 16.05,0 48.15,0 80.25,-131.2 112.35,-187.8 144.45,0 176.55,0 208.65,0 240.75,0 272.85,0 304.95,0 337.05,0 369.15,0 401.25,0"/>
<polyline class="s3" points="0,0 16.05,0 48.15,0 80.25,0 112.35,-231.4 144.45,-87.7 176.55,0 208.65,0 240.75,0 272.85,0 304.95,0 337.05,0 369.15,0 401.25,0"/>
<polyline class="s5" points="0,0 16.05,0 48.15,0 80.25,0 112.35,-172.2 144.45,-147.2 176.55,0 208.65,0 240.75,0 272.85,0 304.95,0 337.05,0 369.15,0 401.25,0"/>
<polyline class="s7" points="0,0 16.05,0 48.15,0 80.25,0 112.35,-138.9 144.45,-179.5 176.55,0 208.65,0 240.75,0 272.85,0 304.95,0 337.05,0 369.15,0 401.25,0"/>
<polyline class="l1" points="319.3,-289.7 337.6,-289.7 355.8,-289.7"/>
<polyline class="l3" points="319.3,-268.2 337.6,-268.2 355.8,-268.2"/>
<polyline class="l5" points="319.3,-246.6 337.6,-246.6 355.8,-246.6"/>
<polyline class="l7" points="319.3,-224.8 337.6,-224.8 355.8,-224.8"/>
<g class="lg"><text x="361.5" y="-284">Day 1</text><text x="361.5" y="-262.5">Day 3</text><text x="361.5" y="-240.9">Day 5</text><text x="361.5" y="-219.1">Day 7</text></g>
</g>
</svg>
</body></html>
